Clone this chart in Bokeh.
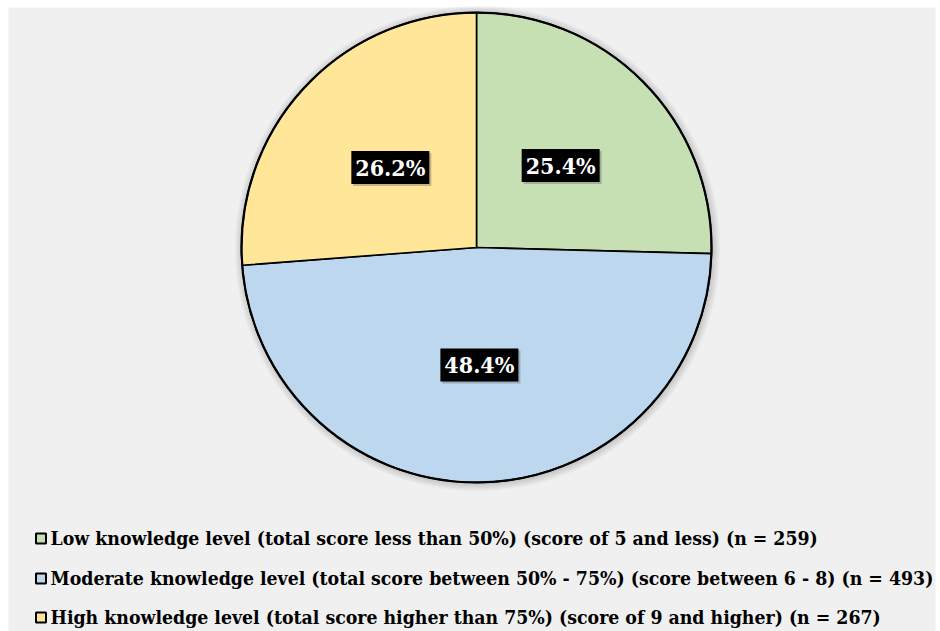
import math

from bokeh.core.properties import value
from bokeh.embed import file_html
from bokeh.models import ColumnDataSource, Range1d
from bokeh.plotting import figure
from bokeh.resources import INLINE

# Knowledge level groups and their respondent counts
categories = [
    "Low knowledge level (total score less than 50%) (score of 5 and less) (n = 259)",
    "Moderate knowledge level (total score between 50% - 75%) (score between 6 - 8) (n = 493)",
    "High knowledge level (total score higher than 75%) (score of 9 and higher) (n = 267)",
]
counts = [259, 493, 267]
colors = ["#c6e0b4", "#bdd7ee", "#ffe699"]

W, H = 940, 631
FONT = "DejaVu Serif Condensed"

p = figure(width=W, height=H, output_backend="svg", toolbar_location=None,
           x_range=Range1d(0, W), y_range=Range1d(0, H),
           min_border=0, outline_line_color=None,
           background_fill_color="white", border_fill_color="white")
p.axis.visible = False
p.grid.visible = False


def Y(y):
    # convert a top-down layout coordinate to the upward data axis
    return H - y


# light gray chart area
p.quad(left=8, right=935, top=Y(7), bottom=Y(H), fill_color="#f0f0f0", line_color=None)

cx, cy, r = 476, Y(247), 235

# soft shadow around the pie
for k in range(1, 9):
    p.circle(x=cx + 1, y=cy - 1, radius=r + k, fill_color="black",
             fill_alpha=0.018, line_color=None)

total = sum(counts)
shares = [c / total for c in counts]
starts, ends, mids = [], [], []
a = math.pi / 2
for s in shares:
    starts.append(a)
    a2 = a - s * 2 * math.pi
    ends.append(a2)
    mids.append((a + a2) / 2)
    a = a2

src = ColumnDataSource(dict(start=starts, end=ends, color=colors))
p.wedge(x=cx, y=cy, radius=r, start_angle="start", end_angle="end",
        direction="clock", fill_color="color", line_color="black",
        line_width=1.6, source=src)
p.circle(x=cx, y=cy, radius=r, fill_color=None, line_color="black", line_width=2.2)

# percentage labels on black boxes at half radius
lx = [cx + 0.5 * r * math.cos(m) for m in mids]
ly = [cy + 0.5 * r * math.sin(m) for m in mids]
labels = [f"{s * 100:.1f}%" for s in shares]
p.rect(x=[x + 2 for x in lx], y=[y - 2 for y in ly], width=78, height=33,
       fill_color="#555555", fill_alpha=0.35, line_color=None)
p.rect(x=lx, y=ly, width=78, height=33, fill_color="black", line_color=None)
p.text(x=lx, y=ly, text=labels, text_color="white", text_font=value(FONT),
       text_font_style="bold", text_font_size="23px",
       text_align="center", text_baseline="middle")

# legend
rows = [Y(538), Y(578), Y(617)]
p.rect(x=[40.5] * 3, y=rows, width=10, height=10, fill_color=colors,
       line_color="black", line_width=2)
p.text(x=[50] * 3, y=rows, text=categories, text_color="black",
       text_font=value(FONT), text_font_style="bold", text_font_size="19.3px",
       text_align="left", text_baseline="middle")

open("out.html", "w").write(file_html(p, INLINE))
